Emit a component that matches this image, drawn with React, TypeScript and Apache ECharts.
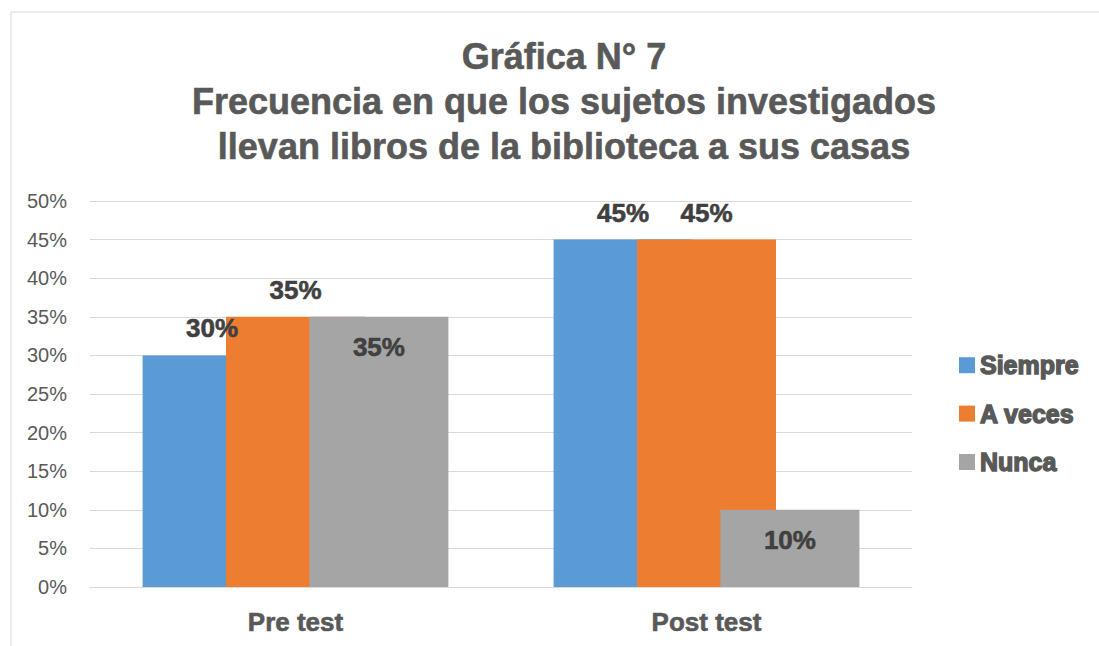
import React, { useEffect, useRef } from "react";
import * as echarts from "echarts";

const categories = ["Pre test", "Post test"];
const seriesNames = ["Siempre", "A veces", "Nunca"];
const siempre = [30, 45];
const aVeces = [35, 45];
const nunca = [35, 10];
const yTicks = [0, 5, 10, 15, 20, 25, 30, 35, 40, 45, 50];
const titleLines = [
  "Gráfica N° 7",
  "Frecuencia en que los sujetos investigados",
  "llevan libros de la biblioteca a sus casas",
];

const colors = ["#5B9BD5", "#ED7D31", "#A5A5A5"];
const FONT = "'Liberation Sans', Arial, sans-serif";

export default function App() {
  const ref = useRef<HTMLDivElement>(null);
  useEffect(() => {
    if (!ref.current) return;
    const chart = echarts.init(ref.current, null, { renderer: "svg" });
    const values = [siempre, aVeces, nunca];
    const labelTop = {
      show: true,
      position: "top",
      distance: 14,
      formatter: "{c}%",
      color: "#404040",
      fontSize: 26,
      fontWeight: "bold",
      fontFamily: FONT,
      textBorderColor: "#404040",
      textBorderWidth: 0.6,
    };
    const labelInside = { ...labelTop, position: "insideTop", distance: 17 };
    chart.setOption({
      animation: false,
      color: colors,
      graphic: [
        {
          type: "rect",
          shape: { x: 11, y: 12, width: 1200, height: 800 },
          style: { fill: "none", stroke: "#D9D9D9", lineWidth: 1 },
          silent: true,
        },
        {
          type: "text",
          x: 564,
          y: 34,
          style: {
            text: titleLines.join("\n"),
            textAlign: "center",
            textVerticalAlign: "top",
            fontSize: 36,
            lineHeight: 45,
            fontWeight: "bold",
            fontFamily: FONT,
            fill: "#595959",
            stroke: "#595959",
            lineWidth: 0.6,
          },
        },
      ],
      legend: {
        orient: "vertical",
        left: 954,
        top: 347,
        itemWidth: 16,
        itemHeight: 16,
        itemGap: 22,
        icon: "rect",
        data: seriesNames,
        textStyle: {
          fontSize: 25,
          fontWeight: "bold",
          fontFamily: FONT,
          color: "#595959",
          textBorderColor: "#595959",
          textBorderWidth: 1.4,
        },
      },
      grid: { left: 90, right: 187, top: 201, bottom: 59 },
      xAxis: {
        type: "category",
        data: categories,
        axisLine: { lineStyle: { color: "#D9D9D9" } },
        axisTick: { show: false },
        axisLabel: {
          margin: 22,
          fontSize: 26,
          fontWeight: "bold",
          fontFamily: FONT,
          color: "#595959",
          textBorderColor: "#595959",
          textBorderWidth: 0.6,
        },
      },
      yAxis: {
        type: "value",
        min: yTicks[0],
        max: yTicks[yTicks.length - 1],
        interval: 5,
        axisLine: { show: false },
        axisTick: { show: false },
        splitLine: { lineStyle: { color: "#D9D9D9", width: 1 } },
        axisLabel: {
          formatter: "{value}%",
          fontSize: 20,
          fontFamily: FONT,
          color: "#595959",
          margin: 23,
        },
      },
      series: seriesNames.map((name, i) => ({
        name,
        type: "bar",
        data: values[i],
        barWidth: 139,
        barGap: "-40%",
        label: i === 2 ? labelInside : labelTop,
      })),
    });
    return () => chart.dispose();
  }, []);
  return (
    <div
      ref={ref}
      style={{ position: "fixed", left: 0, top: 0, width: 1099, height: 646, background: "#fff" }}
    />
  );
}
